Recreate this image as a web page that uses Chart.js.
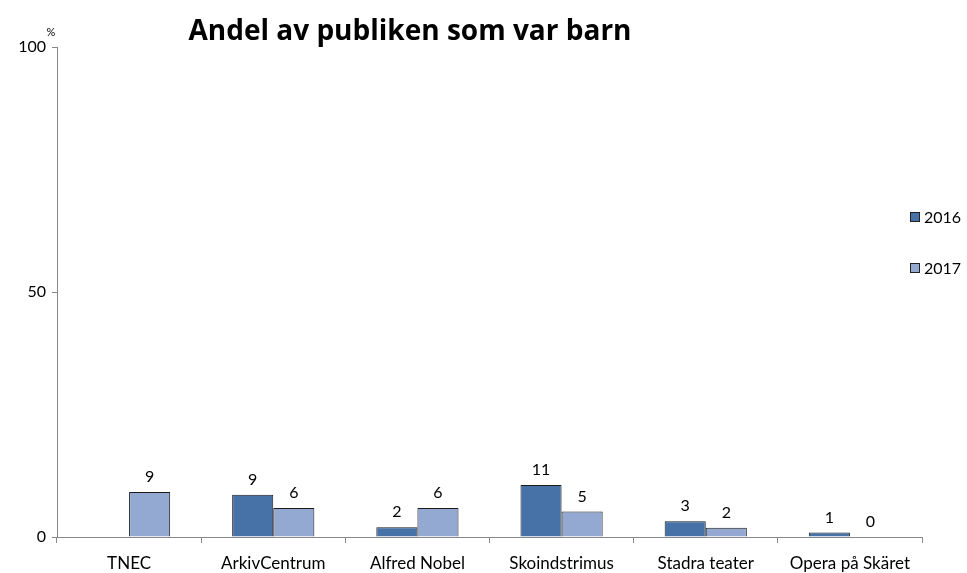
<!DOCTYPE html>
<html>
<head>
<meta charset="utf-8">
<script src="https://cdn.jsdelivr.net/npm/chart.js@4.4.1/dist/chart.umd.min.js"></script>
<style>
  html, body { margin: 0; padding: 0; background: #fff; }
  #wrap { width: 967px; height: 573px; }
</style>
</head>
<body>
<div id="wrap"><canvas id="barn-chart"></canvas></div>
<script>
const categories = ['TNEC', 'ArkivCentrum', 'Alfred Nobel', 'Skoindstrimus', 'Stadra teater', 'Opera på Skäret'];
const values2016 = [null, 8.6, 2.0, 10.6, 3.2, 0.9];
const values2017 = [9.2, 5.9, 5.9, 5.2, 1.9, 0];
const seriesNames = ['2016', '2017'];
const chartTitle = 'Andel av publiken som var barn';

const FONT = 'Lato, "Liberation Sans", sans-serif';

// value labels above bars + title, unit and legend
const extras = {
    id: 'extras',
    afterDatasetsDraw(chart) {
        const ctx = chart.ctx;
        ctx.save();
        ctx.fillStyle = '#000';
        ctx.font = '16px ' + FONT;
        ctx.textAlign = 'center';
        ctx.textBaseline = 'bottom';
        chart.data.datasets.forEach((ds, i) => {
            chart.getDatasetMeta(i).data.forEach((bar, j) => {
                const v = ds.data[j];
                if (v === null || v === undefined) return;
                ctx.fillText(Math.round(v), bar.x, bar.y - 7);
            });
        });

        ctx.font = 'bold 28px "Open Sans", sans-serif';
        ctx.textAlign = 'center';
        ctx.textBaseline = 'alphabetic';
        ctx.fillText(chartTitle, 410, 40);

        ctx.font = '11px ' + FONT;
        ctx.fillText('%', 51, 36);

        ctx.font = '16px ' + FONT;
        ctx.textAlign = 'left';
        ctx.textBaseline = 'middle';
        const legY = [217, 268];
        chart.data.datasets.forEach((ds, i) => {
            ctx.fillStyle = ds.backgroundColor;
            ctx.fillRect(910, legY[i] - 5, 10, 10);
            ctx.strokeStyle = '#222';
            ctx.lineWidth = 1;
            ctx.strokeRect(910.5, legY[i] - 4.5, 9, 9);
            ctx.fillStyle = '#000';
            ctx.fillText(ds.label, 924, legY[i] + 1);
        });
        ctx.restore();
    }
};

new Chart(document.getElementById('barn-chart'), {
    type: 'bar',
    data: {
        labels: categories,
        datasets: [{
            label: seriesNames[0],
            data: values2016,
            backgroundColor: '#4672a8',
            borderColor: '#1a1a1a',
            borderWidth: 1
        }, {
            label: seriesNames[1],
            data: values2017,
            backgroundColor: '#94a9d1',
            borderColor: '#1a1a1a',
            borderWidth: 1
        }]
    },
    options: {
        responsive: true,
        maintainAspectRatio: false,
        animation: false,
        layout: { padding: { top: 47, right: 45, left: 0, bottom: 0 } },
        categoryPercentage: 0.57,
        barPercentage: 1,
        plugins: {
            legend: { display: false },
            title: { display: false },
            tooltip: { enabled: false }
        },
        scales: {
            x: {
                grid: { display: true, drawOnChartArea: false, tickLength: 6, color: '#888' },
                border: { color: '#888' },
                ticks: { color: '#000', font: { size: 17, family: FONT }, padding: 10 },
                afterFit(scale) { scale.height = 36; }
            },
            y: {
                min: 0,
                max: 100,
                ticks: { stepSize: 50, color: '#000', font: { size: 16, family: FONT }, padding: 6 },
                grid: { display: true, drawOnChartArea: false, tickLength: 5, color: '#888' },
                border: { color: '#888' },
                afterFit(scale) { scale.width = 57; }
            }
        }
    },
    plugins: [extras]
});
</script>
</body>
</html>
